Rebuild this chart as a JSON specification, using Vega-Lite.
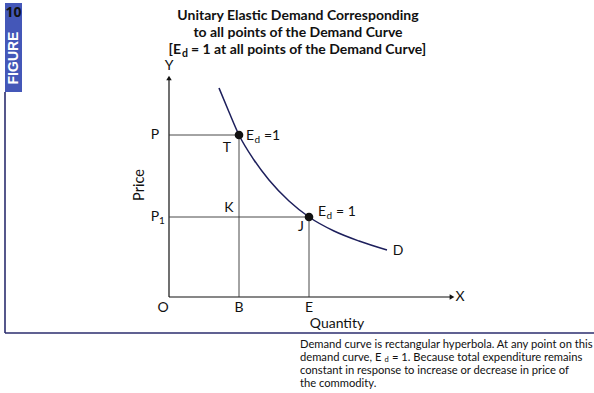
{
  "$schema": "https://vega.github.io/schema/vega-lite/v6.json",
  "width": 594,
  "height": 393,
  "autosize": {"type": "none"},
  "padding": 0,
  "background": "white",
  "config": {"view": {"stroke": null}, "text": {"font": "Lato"}},
  "datasets": {
    "badge": [{"q": -164, "q2": -147, "p": 205, "p2": 294}],
    "badgeNum": [{"q": -155.5, "p": 284, "t": "10"}],
    "badgeWord": [{"q": -155.5, "p": 239, "t": "FIGURE"}],
    "frame": [
      {"q": -164, "p": 205, "q2": -164, "p2": -36},
      {"q": -164, "p": -36, "q2": 425, "p2": -36}
    ],
    "title": [
      {"q": 129, "p": 281, "t": "Unitary Elastic Demand Corresponding"},
      {"q": 129, "p": 264, "t": "to all points of the Demand Curve"}
    ],
    "title3a": [{"q": 12, "p": 247, "t": "[E"}],
    "title3b": [{"q": 13, "p": 243, "t": "d"}],
    "title3c": [{"q": 22, "p": 247, "t": "= 1 at all points of the Demand Curve]"}],
    "axes": [
      {"q": 0, "p": 0, "q2": 0, "p2": 219},
      {"q": 0, "p": 0, "q2": 282, "p2": 0}
    ],
    "arrowY": [{"q": 0, "p": 219}],
    "arrowX": [{"q": 283, "p": 0}],
    "drops": [
      {"q": 0, "p": 162, "q2": 70, "p2": 162},
      {"q": 70, "p": 162, "q2": 70, "p2": 0},
      {"q": 0, "p": 80, "q2": 140, "p2": 80},
      {"q": 140, "p": 80, "q2": 140, "p2": 0}
    ],
    "curve": [
      {"q": 50, "p": 209},
      {"q": 60, "p": 185},
      {"q": 70, "p": 162},
      {"q": 85, "p": 137},
      {"q": 100, "p": 117},
      {"q": 120, "p": 96},
      {"q": 140, "p": 80},
      {"q": 165, "p": 66},
      {"q": 190, "p": 56},
      {"q": 218, "p": 47}
    ],
    "points": [{"q": 70, "p": 162}, {"q": 140, "p": 80}],
    "labels": [
      {"q": 0, "p": 231, "t": "Y"},
      {"q": 291, "p": 0, "t": "X"},
      {"q": -6, "p": -11, "t": "O"},
      {"q": 70, "p": -11, "t": "B"},
      {"q": 140, "p": -11, "t": "E"},
      {"q": 168, "p": -27, "t": "Quantity"},
      {"q": -14, "p": 162, "t": "P"},
      {"q": -14, "p": 80, "t": "P"},
      {"q": 58, "p": 149, "t": "T"},
      {"q": 60, "p": 89, "t": "K"},
      {"q": 132, "p": 70, "t": "J"},
      {"q": 229, "p": 46, "t": "D"}
    ],
    "price": [{"q": -29, "p": 112, "t": "Price"}],
    "sub1": [{"q": -7, "p": 76, "t": "1"}],
    "edMain": [
      {"q": 77, "p": 161, "t": "E"},
      {"q": 95, "p": 161, "t": "=1"},
      {"q": 149, "p": 85, "t": "E"},
      {"q": 167, "p": 85, "t": "= 1"}
    ],
    "edSub": [
      {"q": 85.5, "p": 157, "t": "d"},
      {"q": 157.5, "p": 81, "t": "d"}
    ],
    "caption": [
      {"q": 131, "p": -48, "t": "Demand curve is rectangular hyperbola. At any point on this"},
      {"q": 131, "p": -61, "t": "demand curve, E"},
      {"q": 223, "p": -61, "t": "= 1. Because total expenditure remains"},
      {"q": 131, "p": -74, "t": "constant in response to increase or decrease in price of"},
      {"q": 131, "p": -87, "t": "the commodity."}
    ],
    "captionSub": [{"q": 215.5, "p": -63, "t": "d"}]
  },
  "encoding": {
    "x": {"field": "q", "type": "quantitative", "scale": {"domain": [-169, 425], "nice": false, "zero": false}, "axis": null},
    "y": {"field": "p", "type": "quantitative", "scale": {"domain": [-96, 297], "nice": false, "zero": false}, "axis": null}
  },
  "layer": [
    {"data": {"name": "badge"}, "mark": {"type": "rect", "color": "#4457b8"},
     "encoding": {"x2": {"field": "q2"}, "y2": {"field": "p2"}}},
    {"data": {"name": "badgeNum"}, "mark": {"type": "text", "fontWeight": "bold", "fontSize": 14, "color": "#111111", "font": "Open Sans"},
     "encoding": {"text": {"field": "t"}}},
    {"data": {"name": "badgeWord"}, "mark": {"type": "text", "fontWeight": "bold", "fontSize": 14, "color": "white", "angle": 270, "font": "Liberation Sans"},
     "encoding": {"text": {"field": "t"}}},
    {"data": {"name": "frame"}, "mark": {"type": "rule", "color": "#2b2d6e", "strokeWidth": 1.6},
     "encoding": {"x2": {"field": "q2"}, "y2": {"field": "p2"}}},
    {"data": {"name": "title"}, "mark": {"type": "text", "fontWeight": "bold", "fontSize": 14, "color": "#111111"},
     "encoding": {"text": {"field": "t"}}},
    {"data": {"name": "title3a"}, "mark": {"type": "text", "fontWeight": "bold", "fontSize": 14, "align": "right", "color": "#111111"},
     "encoding": {"text": {"field": "t"}}},
    {"data": {"name": "title3b"}, "mark": {"type": "text", "fontWeight": "bold", "fontSize": 10.5, "align": "left", "color": "#111111"},
     "encoding": {"text": {"field": "t"}}},
    {"data": {"name": "title3c"}, "mark": {"type": "text", "fontWeight": "bold", "fontSize": 14, "align": "left", "color": "#111111"},
     "encoding": {"text": {"field": "t"}}},
    {"data": {"name": "axes"}, "mark": {"type": "rule", "color": "#111111", "strokeWidth": 1.2},
     "encoding": {"x2": {"field": "q2"}, "y2": {"field": "p2"}}},
    {"data": {"name": "arrowY"}, "mark": {"type": "point", "shape": "triangle-up", "filled": true, "color": "#111111", "size": 30, "opacity": 1},
     "encoding": {}},
    {"data": {"name": "arrowX"}, "mark": {"type": "point", "shape": "triangle-right", "filled": true, "color": "#111111", "size": 30, "opacity": 1},
     "encoding": {}},
    {"data": {"name": "drops"}, "mark": {"type": "rule", "color": "#333333", "strokeWidth": 0.9},
     "encoding": {"x2": {"field": "q2"}, "y2": {"field": "p2"}}},
    {"data": {"name": "curve"}, "mark": {"type": "line", "color": "#1d1f5c", "strokeWidth": 1.5, "interpolate": "monotone"},
     "encoding": {}},
    {"data": {"name": "points"}, "mark": {"type": "circle", "color": "#111111", "size": 75, "opacity": 1},
     "encoding": {}},
    {"data": {"name": "labels"}, "mark": {"type": "text", "fontSize": 14, "color": "#111111"},
     "encoding": {"text": {"field": "t"}}},
    {"data": {"name": "price"}, "mark": {"type": "text", "fontSize": 14.5, "color": "#111111", "angle": 270},
     "encoding": {"text": {"field": "t"}}},
    {"data": {"name": "sub1"}, "mark": {"type": "text", "fontSize": 10, "color": "#111111"},
     "encoding": {"text": {"field": "t"}}},
    {"data": {"name": "edMain"}, "mark": {"type": "text", "fontSize": 14, "align": "left", "color": "#111111"},
     "encoding": {"text": {"field": "t"}}},
    {"data": {"name": "edSub"}, "mark": {"type": "text", "fontSize": 10, "align": "left", "color": "#111111"},
     "encoding": {"text": {"field": "t"}}},
    {"data": {"name": "caption"}, "mark": {"type": "text", "fontSize": 11.2, "align": "left", "color": "#111111"},
     "encoding": {"text": {"field": "t"}}},
    {"data": {"name": "captionSub"}, "mark": {"type": "text", "fontSize": 7.5, "align": "left", "color": "#111111"},
     "encoding": {"text": {"field": "t"}}}
  ]
}
